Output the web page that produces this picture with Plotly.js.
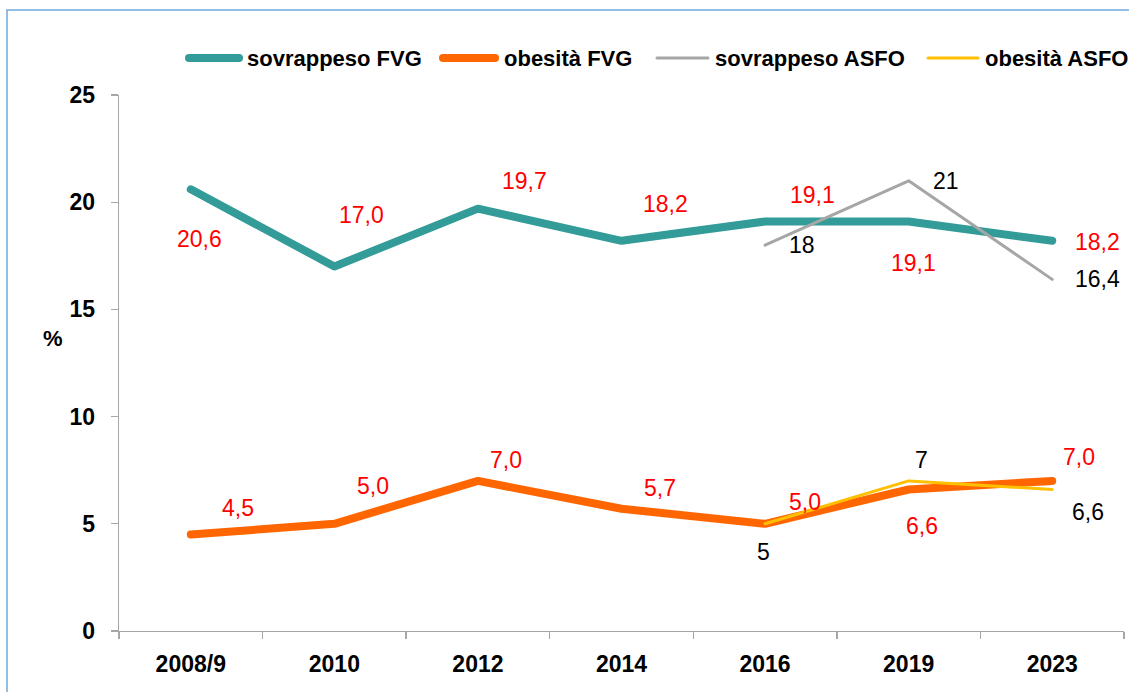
<!DOCTYPE html>
<html>
<head>
<meta charset="utf-8">
<script src="https://cdn.plot.ly/plotly-3.0.1.min.js"></script>
<style>
html,body{margin:0;padding:0;background:#fff;}
#chart{width:1129px;height:692px;}
#chart .js-line{stroke-linecap:round;stroke-linejoin:round;}
#chart .shapelayer path{stroke-linecap:round;}
</style>
</head>
<body>
<div id="chart"></div>
<script>
// ---- data ----
const categories = ["2008/9", "2010", "2012", "2014", "2016", "2019", "2023"];
const sovrappesoFVG = [20.6, 17.0, 19.7, 18.2, 19.1, 19.1, 18.2];
const obesitaFVG = [4.5, 5.0, 7.0, 5.7, 5.0, 6.6, 7.0];
const asfoCategories = ["2016", "2019", "2023"];
const sovrappesoASFO = [18, 21, 16.4];
const obesitaASFO = [5, 7, 6.6];
const yTicks = [0, 5, 10, 15, 20, 25];
const seriesNames = ["sovrappeso FVG", "obesità FVG", "sovrappeso ASFO", "obesità ASFO"];

// ---- styles / label offsets (pixels, style only) ----
const seriesColors = ['#339C98', '#FF6600', '#A6A6A6', '#FFC000'];
const seriesWidths = [8, 8, 3, 3];
const offSovFVG = [[9,-50],[27,52],[47,28],[44,37],[47,27],[5,-41],[45,-1]];
const offObeFVG = [[47,27],[39,38],[28,21],[38,21],[40,22],[13,-36],[27,24]];
const offSovASFO = [[37,0],[37,0],[45,0]];
const offObeASFO = [[-2,-28],[13,21],[36,-22]];
// legend layout in pixels: [lineStart, lineEnd, textStart]
const legendPx = [[189, 239, 245], [443, 495, 502], [657, 708, 713], [928, 978, 983]];
const legendYpx = 58;

const FONT = '"Liberation Sans", Arial, sans-serif';
const fmt1 = v => v.toFixed(1).replace('.', ',');
const fmtG = v => String(v).replace('.', ',');

// plot area geometry (px)
const ML = 119, MR = 5, MT = 95, MB = 61, W = 1129, H = 692;
const PW = W - ML - MR, PH = H - MT - MB;
const px2x = p => (p - ML) / PW;
const px2y = p => (H - MB - p) / PH;

const xsList = [categories, categories, asfoCategories, asfoCategories];
const ysList = [sovrappesoFVG, obesitaFVG, sovrappesoASFO, obesitaASFO];
const traces = ysList.map((ys, k) => ({
  x: xsList[k], y: ys, name: seriesNames[k], type: 'scatter', mode: 'lines',
  line: {color: seriesColors[k], width: seriesWidths[k]}, showlegend: false
}));

const annotations = [];
function addLabels(xs, ys, offs, fmt, color) {
  xs.forEach((c, i) => {
    annotations.push({x: categories.indexOf(c), y: ys[i], xref: 'x', yref: 'y', text: fmt(ys[i]), showarrow: false,
      xshift: offs[i][0], yshift: offs[i][1], font: {family: FONT, size: 23, color: color}});
  });
}
addLabels(categories, sovrappesoFVG, offSovFVG, fmt1, '#FF0000');
addLabels(categories, obesitaFVG, offObeFVG, fmt1, '#FF0000');
addLabels(asfoCategories, sovrappesoASFO, offSovASFO, fmtG, '#000000');
addLabels(asfoCategories, obesitaASFO, offObeASFO, fmtG, '#000000');

annotations.push({x: px2x(41), y: px2y(338), xref: 'paper', yref: 'paper', text: '%', showarrow: false,
  font: {family: FONT, size: 22, color: '#000', weight: 'bold'}});

const shapes = [
  {type: 'rect', xref: 'paper', yref: 'paper', x0: px2x(7), x1: px2x(1400), y0: px2y(900), y1: px2y(10),
   line: {color: '#6FA8DC', width: 1.5}, fillcolor: 'rgba(0,0,0,0)', layer: 'below'}
];
// legend drawn from series names/colors
seriesNames.forEach((n, k) => {
  shapes.push({type: 'line', xref: 'paper', yref: 'paper', x0: px2x(legendPx[k][0]), x1: px2x(legendPx[k][1]),
    y0: px2y(legendYpx), y1: px2y(legendYpx), line: {color: seriesColors[k], width: seriesWidths[k]}});
  annotations.push({x: px2x(legendPx[k][2]), y: px2y(legendYpx), xref: 'paper', yref: 'paper', text: n,
    showarrow: false, xanchor: 'left', yanchor: 'middle',
    font: {family: FONT, size: 22, color: '#000', weight: 'bold'}});
});

const layout = {
  width: W, height: H,
  margin: {l: ML, r: MR, t: MT, b: MB},
  paper_bgcolor: '#fff', plot_bgcolor: '#fff',
  font: {family: FONT, color: '#000'},
  showlegend: false,
  xaxis: {type: 'category', categoryorder: 'array', categoryarray: categories,
    range: [-0.5, categories.length - 0.5], showgrid: false, zeroline: false,
    showline: true, linecolor: '#A6A6A6', linewidth: 1.3,
    ticks: 'outside', tickson: 'boundaries', ticklen: 7, tickcolor: '#A6A6A6', tickwidth: 1.3,
    ticklabelstandoff: 12,
    tickfont: {family: FONT, size: 23, color: '#000', weight: 'bold'}, fixedrange: true},
  yaxis: {range: [0, 25], tickvals: yTicks, ticktext: yTicks.map(String), showgrid: false, zeroline: false,
    showline: true, linecolor: '#A6A6A6', linewidth: 1.3,
    ticks: 'outside', ticklen: 7, tickcolor: '#A6A6A6', tickwidth: 1.3,
    ticklabelstandoff: 11,
    tickfont: {family: FONT, size: 23, color: '#000', weight: 'bold'}, fixedrange: true},
  shapes: shapes,
  annotations: annotations
};

Plotly.newPlot('chart', traces, layout, {displayModeBar: false, staticPlot: true});
</script>
</body>
</html>
